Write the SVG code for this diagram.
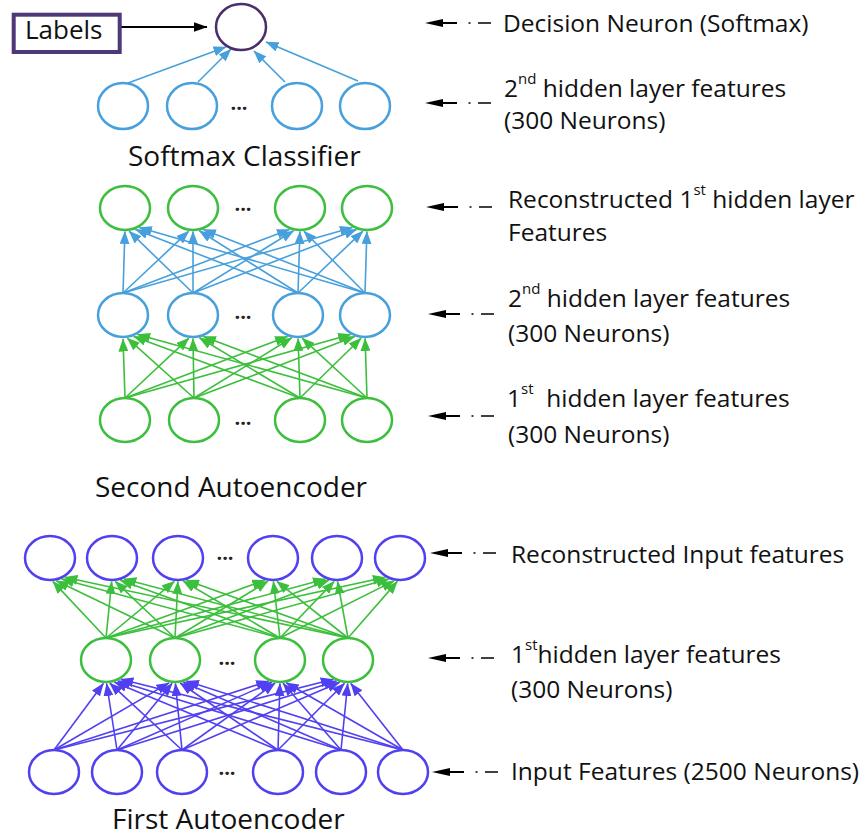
<svg xmlns="http://www.w3.org/2000/svg" xmlns:xlink="http://www.w3.org/1999/xlink" width="865" height="839" viewBox="0 0 865 839">
<style>
text{font-family:"Open Sans","Noto Sans","DejaVu Sans",sans-serif;fill:#111}
.lbl{font-size:24.5px}
.title{font-size:28px}
.dots{font-size:20px;font-weight:bold;text-anchor:middle;fill:#222}
.sup{font-size:15px}
.n{fill:#fff;stroke-width:2.5}
.nb{stroke:#47a0dc}
.ng{stroke:#3cbf3c}
.np{stroke:#5040f0}
.cb{stroke:#47a0dc;stroke-width:1.6;fill:none;marker-end:url(#mb)}
.cg{stroke:#3cbf3c;stroke-width:1.6;fill:none;marker-end:url(#mg)}
.cp{stroke:#5040f0;stroke-width:1.6;fill:none;marker-end:url(#mp)}
</style>
<defs>
<marker id="mb" markerUnits="userSpaceOnUse" viewBox="0 0 13 10" markerWidth="13" markerHeight="10" refX="12.5" refY="5" orient="auto"><path d="M0,0 L13,5 L0,10 z" fill="#47a0dc"/></marker>
<marker id="mg" markerUnits="userSpaceOnUse" viewBox="0 0 13 10" markerWidth="13" markerHeight="10" refX="12.5" refY="5" orient="auto"><path d="M0,0 L13,5 L0,10 z" fill="#3cbf3c"/></marker>
<marker id="mp" markerUnits="userSpaceOnUse" viewBox="0 0 13 10" markerWidth="13" markerHeight="10" refX="12.5" refY="5" orient="auto"><path d="M0,0 L13,5 L0,10 z" fill="#5040f0"/></marker>
<marker id="mk" markerUnits="userSpaceOnUse" viewBox="0 0 14 10" markerWidth="14" markerHeight="10" refX="13.5" refY="5" orient="auto"><path d="M0,0 L14,5 L0,10 z" fill="#000"/></marker>
<g id="la">
<path d="M0,0 L18,-4 L18,4 z" fill="#000"/>
<line x1="10" y1="0" x2="32" y2="0" stroke="#000" stroke-width="2"/>
<line x1="43.5" y1="0" x2="45.5" y2="0" stroke="#000" stroke-width="1.5"/>
<line x1="53" y1="0" x2="66" y2="0" stroke="#000" stroke-width="1.5"/>
</g>
</defs>
<rect width="865" height="839" fill="#fff"/>

<g id="connectors">
<path d="M121,27 L207,27" stroke="#000" stroke-width="2" fill="none" marker-end="url(#mk)"/>
<path class="cb" d="M128,83 L226,47"/>
<path class="cb" d="M198,82 L231,49"/>
<path class="cb" d="M285,82 L254,51"/>
<path class="cb" d="M358,81 L266,42"/>
<path class="cg" d="M125,398 L123,339"/>
<path class="cg" d="M194,398 L127.3,338.2"/>
<path class="cg" d="M300,398 L133.6,336.4"/>
<path class="cg" d="M367,398 L137.6,334.4"/>
<path class="cg" d="M125,398 L188.9,338.2"/>
<path class="cg" d="M194,398 L193,338.5"/>
<path class="cg" d="M300,398 L199.4,337.8"/>
<path class="cg" d="M367,398 L203.4,336.5"/>
<path class="cg" d="M125,398 L287.6,336.5"/>
<path class="cg" d="M194,398 L291.8,337.8"/>
<path class="cg" d="M300,398 L298.1,338.5"/>
<path class="cg" d="M367,398 L302.1,338.2"/>
<path class="cg" d="M125,398 L350.6,334.5"/>
<path class="cg" d="M194,398 L354.7,336.5"/>
<path class="cg" d="M300,398 L361.1,338.2"/>
<path class="cg" d="M367,398 L365.1,338.5"/>
<path class="cb" d="M123,293 L124.9,231.5"/>
<path class="cb" d="M193,293 L129.1,231.2"/>
<path class="cb" d="M298,293 L135.4,229.5"/>
<path class="cb" d="M365,293 L139.4,227.5"/>
<path class="cb" d="M123,293 L188.8,231.2"/>
<path class="cb" d="M193,293 L193,231.5"/>
<path class="cb" d="M298,293 L199.3,230.8"/>
<path class="cb" d="M365,293 L203.3,229.5"/>
<path class="cb" d="M123,293 L289.4,229.4"/>
<path class="cb" d="M193,293 L293.6,230.8"/>
<path class="cb" d="M298,293 L299.9,231.5"/>
<path class="cb" d="M365,293 L303.9,231.2"/>
<path class="cb" d="M123,293 L352.4,227.4"/>
<path class="cb" d="M193,293 L356.6,229.5"/>
<path class="cb" d="M298,293 L362.9,231.2"/>
<path class="cb" d="M365,293 L366.9,231.5"/>
<path class="cp" d="M54,750 L103.4,683.4"/>
<path class="cp" d="M117,750 L106.6,683.5"/>
<path class="cp" d="M182,750 L109.8,683.2"/>
<path class="cp" d="M278,750 L114.6,682.2"/>
<path class="cp" d="M341,750 L117.8,680.9"/>
<path class="cp" d="M403,750 L120.9,679.2"/>
<path class="cp" d="M54,750 L169,682.9"/>
<path class="cp" d="M117,750 L172.1,683.3"/>
<path class="cp" d="M182,750 L175.4,683.5"/>
<path class="cp" d="M278,750 L180.2,683"/>
<path class="cp" d="M341,750 L183.3,682.2"/>
<path class="cp" d="M403,750 L186.4,681.1"/>
<path class="cp" d="M54,750 L268.7,681.1"/>
<path class="cp" d="M117,750 L271.9,682.3"/>
<path class="cp" d="M182,750 L275.1,683.1"/>
<path class="cp" d="M278,750 L279.9,683.5"/>
<path class="cp" d="M341,750 L283.1,683.3"/>
<path class="cp" d="M403,750 L286.2,682.8"/>
<path class="cp" d="M54,750 L333.3,679.3"/>
<path class="cp" d="M117,750 L336.5,681"/>
<path class="cp" d="M182,750 L339.7,682.3"/>
<path class="cp" d="M278,750 L344.5,683.3"/>
<path class="cp" d="M341,750 L347.7,683.5"/>
<path class="cp" d="M403,750 L350.8,683.4"/>
<path class="cg" d="M106,638 L52.8,581.4"/>
<path class="cg" d="M175,638 L56.3,580.8"/>
<path class="cg" d="M280,638 L61.5,579"/>
<path class="cg" d="M348,638 L64.9,577.2"/>
<path class="cg" d="M106,638 L111.7,581.5"/>
<path class="cg" d="M175,638 L115.2,581.3"/>
<path class="cg" d="M280,638 L120.4,580.3"/>
<path class="cg" d="M348,638 L123.8,578.9"/>
<path class="cg" d="M106,638 L174.4,581.3"/>
<path class="cg" d="M175,638 L177.9,581.5"/>
<path class="cg" d="M280,638 L183.1,581"/>
<path class="cg" d="M348,638 L186.5,580.2"/>
<path class="cg" d="M106,638 L264.7,580.2"/>
<path class="cg" d="M175,638 L268.1,581.1"/>
<path class="cg" d="M280,638 L273.4,581.5"/>
<path class="cg" d="M348,638 L276.8,581.3"/>
<path class="cg" d="M106,638 L325.5,579"/>
<path class="cg" d="M175,638 L328.9,580.3"/>
<path class="cg" d="M280,638 L334.2,581.4"/>
<path class="cg" d="M348,638 L337.6,581.5"/>
<path class="cg" d="M106,638 L385.3,577.3"/>
<path class="cg" d="M175,638 L388.8,579.1"/>
<path class="cg" d="M280,638 L394,580.9"/>
<path class="cg" d="M348,638 L397.4,581.4"/>
<use xlink:href="#la" href="#la" x="425" y="23"/>
<use xlink:href="#la" href="#la" x="425" y="103"/>
<use xlink:href="#la" href="#la" x="426" y="207"/>
<use xlink:href="#la" href="#la" x="428" y="314"/>
<use xlink:href="#la" href="#la" x="428" y="416"/>
<use xlink:href="#la" href="#la" x="430" y="553"/>
<use xlink:href="#la" href="#la" x="428" y="658"/>
<use xlink:href="#la" href="#la" x="432" y="772"/>
</g>

<g id="labels-box">
<rect x="13.7" y="14.7" width="106" height="37.3" fill="#fff" stroke="#4f3878" stroke-width="4"/>
<text x="25" y="39" style="font-size:26px">Labels</text>
</g>
<g id="decision-neuron"><ellipse cx="241" cy="27" rx="25" ry="23" fill="#fff" stroke="#4a2d6c" stroke-width="2.5"/></g>

<g id="softmax-layer">
<ellipse class="n nb" cx="123" cy="106" rx="25" ry="23"/>
<ellipse class="n nb" cx="192" cy="106" rx="25" ry="23"/>
<ellipse class="n nb" cx="297" cy="106" rx="25" ry="23"/>
<ellipse class="n nb" cx="365" cy="106" rx="25" ry="23"/>
<text class="dots" x="239" y="110">...</text>
</g>
<text class="title" x="128" y="166">Softmax Classifier</text>

<g id="ae2-reconstructed">
<ellipse class="n ng" cx="125" cy="208" rx="25" ry="22"/>
<ellipse class="n ng" cx="193" cy="208" rx="25" ry="22"/>
<ellipse class="n ng" cx="300" cy="208" rx="25" ry="22"/>
<ellipse class="n ng" cx="367" cy="208" rx="25" ry="22"/>
<text class="dots" x="243" y="211">...</text>
</g>
<g id="ae2-hidden">
<ellipse class="n nb" cx="123" cy="315" rx="25" ry="22"/>
<ellipse class="n nb" cx="193" cy="315" rx="25" ry="22"/>
<ellipse class="n nb" cx="298" cy="315" rx="25" ry="22"/>
<ellipse class="n nb" cx="365" cy="315" rx="25" ry="22"/>
<text class="dots" x="243" y="319">...</text>
</g>
<g id="ae2-input">
<ellipse class="n ng" cx="125" cy="420" rx="25" ry="22"/>
<ellipse class="n ng" cx="194" cy="420" rx="25" ry="22"/>
<ellipse class="n ng" cx="300" cy="420" rx="25" ry="22"/>
<ellipse class="n ng" cx="367" cy="420" rx="25" ry="22"/>
<text class="dots" x="243" y="425">...</text>
</g>
<text class="title" x="95" y="497">Second Autoencoder</text>

<g id="ae1-reconstructed">
<ellipse class="n np" cx="50" cy="558" rx="25" ry="22"/>
<ellipse class="n np" cx="112" cy="558" rx="25" ry="22"/>
<ellipse class="n np" cx="178" cy="558" rx="25" ry="22"/>
<ellipse class="n np" cx="273" cy="558" rx="25" ry="22"/>
<ellipse class="n np" cx="337" cy="558" rx="25" ry="22"/>
<ellipse class="n np" cx="400" cy="558" rx="25" ry="22"/>
<text class="dots" x="225" y="560">...</text>
</g>
<g id="ae1-hidden">
<ellipse class="n ng" cx="106" cy="660" rx="25" ry="22"/>
<ellipse class="n ng" cx="175" cy="660" rx="25" ry="22"/>
<ellipse class="n ng" cx="280" cy="660" rx="25" ry="22"/>
<ellipse class="n ng" cx="348" cy="660" rx="25" ry="22"/>
<text class="dots" x="227" y="665">...</text>
</g>
<g id="ae1-input">
<ellipse class="n np" cx="54" cy="772" rx="25" ry="22"/>
<ellipse class="n np" cx="117" cy="772" rx="25" ry="22"/>
<ellipse class="n np" cx="182" cy="772" rx="25" ry="22"/>
<ellipse class="n np" cx="278" cy="772" rx="25" ry="22"/>
<ellipse class="n np" cx="341" cy="772" rx="25" ry="22"/>
<ellipse class="n np" cx="403" cy="772" rx="25" ry="22"/>
<text class="dots" x="227" y="775">...</text>
</g>
<text class="title" x="112" y="829">First Autoencoder</text>

<g id="side-labels">
<text class="lbl" x="503" y="32">Decision Neuron (Softmax)</text>
<text class="lbl" x="504" y="97">2<tspan class="sup" dy="-13">nd</tspan><tspan dy="13"> hidden layer features</tspan></text>
<text class="lbl" x="504" y="129">(300 Neurons)</text>
<text class="lbl" x="508" y="208">Reconstructed 1<tspan class="sup" dy="-13">st</tspan><tspan dy="13"> hidden layer</tspan></text>
<text class="lbl" x="508" y="241">Features</text>
<text class="lbl" x="508" y="307">2<tspan class="sup" dy="-13">nd</tspan><tspan dy="13"> hidden layer features</tspan></text>
<text class="lbl" x="508" y="342">(300 Neurons)</text>
<text class="lbl" x="507" y="407" xml:space="preserve">1<tspan class="sup" dy="-13">st</tspan><tspan dy="13">  hidden layer features</tspan></text>
<text class="lbl" x="508" y="443">(300 Neurons)</text>
<text class="lbl" x="511" y="563">Reconstructed Input features</text>
<text class="lbl" x="511" y="663">1<tspan class="sup" dy="-13">st</tspan><tspan dy="13">hidden layer features</tspan></text>
<text class="lbl" x="511" y="698">(300 Neurons)</text>
<text class="lbl" x="511" y="780">Input Features (2500 Neurons)</text>
</g>
</svg>
